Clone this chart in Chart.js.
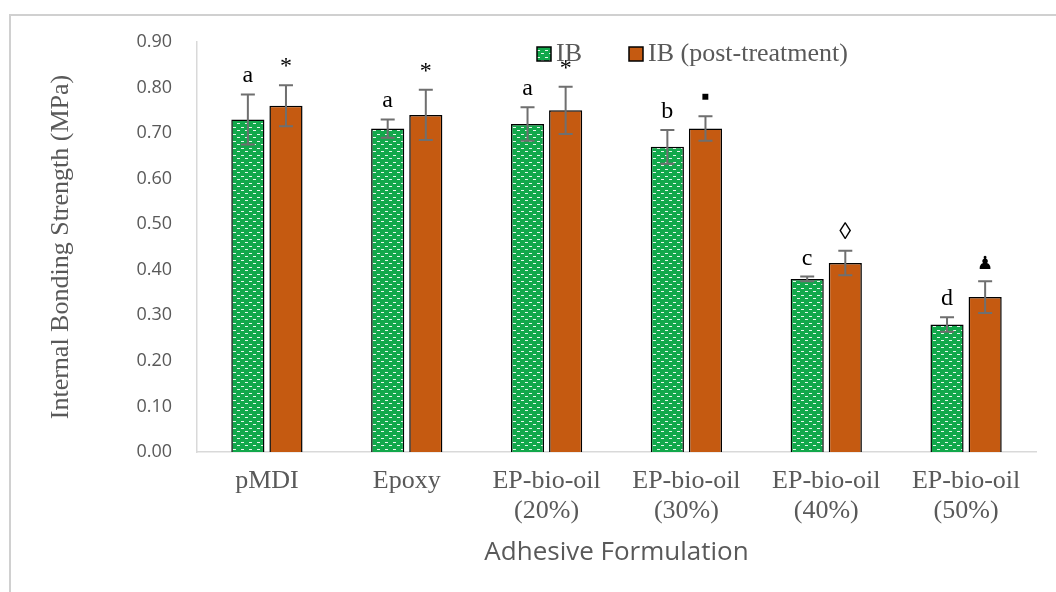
<!DOCTYPE html>
<html>
<head>
<meta charset="utf-8">
<script src="https://cdn.jsdelivr.net/npm/chart.js@4/dist/chart.umd.min.js"></script>
<style>
  html, body { margin: 0; padding: 0; background: #fff; }
  #wrap { width: 1056px; height: 592px; }
</style>
</head>
<body>
<div id="wrap"><canvas id="ibChart" width="1056" height="592"></canvas></div>
<script>
// chart data
const categories = ['pMDI', 'Epoxy', ['EP-bio-oil', '(20%)'], ['EP-bio-oil', '(30%)'], ['EP-bio-oil', '(40%)'], ['EP-bio-oil', '(50%)']];
const ibValues = [0.73, 0.71, 0.72, 0.67, 0.38, 0.28];
const ibErrors = [0.055, 0.02, 0.037, 0.037, 0.005, 0.016];
const postValues = [0.76, 0.74, 0.75, 0.71, 0.415, 0.34];
const postErrors = [0.045, 0.055, 0.052, 0.027, 0.027, 0.035];
const ibLetters = ['a', 'a', 'a', 'b', 'c', 'd'];
const postLetters = ['*', '*', '*', '\u25AA', '\u25CA', '\u265F'];
const yTicks = [0, 0.1, 0.2, 0.3, 0.4, 0.5, 0.6, 0.7, 0.8, 0.9];

const GRAY_TEXT = '#595959';
const SERIF = '"Liberation Serif", "Times New Roman", serif';
const SANS = '"Open Sans", sans-serif';

// green fill with little white dashes, like the Excel pattern
function makeDashPattern() {
    const c = document.createElement('canvas');
    c.width = 8;
    c.height = 7;
    const g = c.getContext('2d');
    g.fillStyle = '#12a84b';
    g.fillRect(0, 0, 8, 7);
    g.fillStyle = 'rgba(255,255,255,0.9)';
    g.fillRect(1, 1, 3, 1);
    g.fillRect(5, 4, 3, 1);
    return g.createPattern(c, 'repeat');
}

// error bars + significance letters
const errorBarPlugin = {
    id: 'errorBars',
    afterDatasetsDraw(chart) {
        const ctx = chart.ctx;
        const yScale = chart.scales.y;
        const errs = [ibErrors, postErrors];
        const letters = [ibLetters, postLetters];
        chart.data.datasets.forEach((ds, di) => {
            const meta = chart.getDatasetMeta(di);
            meta.data.forEach((bar, i) => {
                const v = ds.data[i];
                const e = errs[di][i];
                const x = bar.x;
                const yTop = yScale.getPixelForValue(v + e);
                const yBot = yScale.getPixelForValue(v - e);
                ctx.save();
                ctx.strokeStyle = '#6f6f6f';
                ctx.lineWidth = 2;
                ctx.beginPath();
                ctx.moveTo(x, yTop);
                ctx.lineTo(x, yBot);
                ctx.moveTo(x - 7, yTop);
                ctx.lineTo(x + 7, yTop);
                ctx.moveTo(x - 7, yBot);
                ctx.lineTo(x + 7, yBot);
                ctx.stroke();

                const sym = letters[di][i];
                ctx.fillStyle = '#000';
                ctx.font = (sym === '\u265F' ? '18px ' : '24px ') + SERIF;
                ctx.textAlign = 'center';
                ctx.textBaseline = 'alphabetic';
                ctx.fillText(sym, x, yTop - 12);
                ctx.restore();
            });
        });
    }
};

// frame + legend
const framePlugin = {
    id: 'frame',
    beforeDraw(chart) {
        const ctx = chart.ctx;
        ctx.save();
        ctx.fillStyle = '#fff';
        ctx.fillRect(0, 0, chart.width, chart.height);
        ctx.strokeStyle = '#d0d0d0';
        ctx.lineWidth = 2;
        ctx.beginPath();
        ctx.moveTo(10, chart.height);
        ctx.lineTo(10, 15);
        ctx.lineTo(chart.width, 15);
        ctx.stroke();
        ctx.restore();
    },
    afterDraw(chart) {
        const ctx = chart.ctx;
        const items = [
            { text: 'IB', fill: chart.data.datasets[0].backgroundColor, x: 537 },
            { text: 'IB (post-treatment)', fill: chart.data.datasets[1].backgroundColor, x: 629 }
        ];
        ctx.save();
        ctx.font = '26px ' + SERIF;
        ctx.textBaseline = 'middle';
        items.forEach(it => {
            ctx.fillStyle = it.fill;
            ctx.fillRect(it.x, 47, 14, 14);
            ctx.strokeStyle = '#000';
            ctx.lineWidth = 1.5;
            ctx.strokeRect(it.x, 47, 14, 14);
            ctx.fillStyle = GRAY_TEXT;
            ctx.fillText(it.text, it.x + 19, 54);
        });
        ctx.restore();
    }
};

function initializeChart() {
    const ctx = document.getElementById('ibChart').getContext('2d');
    return new Chart(ctx, {
        type: 'bar',
        data: {
            labels: categories,
            datasets: [
                {
                    label: 'IB',
                    data: ibValues,
                    backgroundColor: makeDashPattern(),
                    borderColor: '#000',
                    borderWidth: 1.5,
                    categoryPercentage: 0.545,
                    barPercentage: 0.87
                },
                {
                    label: 'IB (post-treatment)',
                    data: postValues,
                    backgroundColor: '#c55a11',
                    borderColor: '#000',
                    borderWidth: 1.5,
                    categoryPercentage: 0.545,
                    barPercentage: 0.87
                }
            ]
        },
        options: {
            responsive: false,
            animation: false,
            layout: { padding: { left: 0, right: 20, top: 42, bottom: 0 } },
            plugins: {
                legend: { display: false },
                tooltip: { enabled: false }
            },
            scales: {
                x: {
                    grid: { display: false, drawTicks: false },
                    border: { display: true, color: '#d9d9d9', width: 1.5 },
                    ticks: {
                        color: GRAY_TEXT,
                        font: { family: SERIF, size: 26, lineHeight: 1.12 },
                        padding: 15,
                        maxRotation: 0,
                        autoSkip: false
                    },
                    title: {
                        display: true,
                        text: 'Adhesive Formulation',
                        color: GRAY_TEXT,
                        font: { family: SANS, size: 26 },
                        padding: { top: 0, bottom: 24 }
                    },
                    afterFit(scale) { scale.height = 140; }
                },
                y: {
                    min: 0,
                    max: 0.9,
                    grid: { display: false, drawTicks: false },
                    border: { display: true, color: '#d9d9d9', width: 1.5 },
                    afterBuildTicks(scale) { scale.ticks = yTicks.map(v => ({ value: v })); },
                    ticks: {
                        color: GRAY_TEXT,
                        font: { family: SANS, size: 18 },
                        padding: 25,
                        callback: v => Number(v).toFixed(2)
                    },
                    title: {
                        display: true,
                        text: 'Internal Bonding Strength (MPa)',
                        color: GRAY_TEXT,
                        font: { family: SERIF, size: 26 },
                        padding: { top: 46, bottom: 0 }
                    },
                    afterFit(scale) { scale.width = 197; }
                }
            }
        },
        plugins: [framePlugin, errorBarPlugin]
    });
}

document.addEventListener('DOMContentLoaded', initializeChart);
</script>
</body>
</html>
